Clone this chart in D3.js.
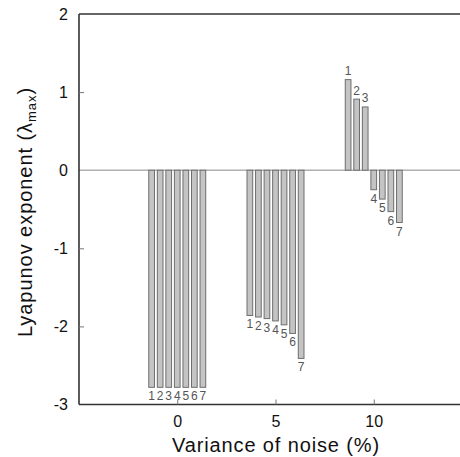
<!DOCTYPE html>
<html>
<head>
<meta charset="utf-8">
<script src="https://cdn.jsdelivr.net/npm/d3@7"></script>
<style>
  html, body { margin: 0; padding: 0; background: #fff; }
  svg { display: block; font-family: "Liberation Sans", Arial, sans-serif; }
</style>
</head>
<body>
<svg id="chart" width="460" height="457"></svg>
<script>
// ---- data ----
const groups = [0, 5, 10];                 // variance of noise (%)
const barIds = [1, 2, 3, 4, 5, 6, 7];      // bar labels within each group
const values0 = [-2.78, -2.78, -2.78, -2.78, -2.78, -2.78, -2.78];
const values5 = [-1.86, -1.88, -1.90, -1.93, -1.98, -2.09, -2.41];
const values10 = [1.16, 0.91, 0.81, -0.25, -0.37, -0.53, -0.67];
const xTicks = [0, 5, 10];
const yTicks = [-3, -2, -1, 0, 1, 2];

const series = [values0, values5, values10];

(function () {
const svg = d3.select("#chart");
const mLeft = 79, mTop = 14, mBottom = 404.5;
const x = d3.scaleLinear().domain([-5, 15]).range([mLeft, mLeft + 20 * 19.65]);
const y = d3.scaleLinear().domain([-3, 2]).range([mBottom, mTop]);

// zero line
svg.append("line")
  .attr("x1", mLeft).attr("x2", 460)
  .attr("y1", y(0)).attr("y2", y(0))
  .attr("stroke", "#b0b0b0").attr("stroke-width", 1.5);

// bars
groups.forEach((g, gi) => {
  const band = d3.scaleBand().domain(barIds)
    .range([x(g - 1.45), x(g + 1.45)]).paddingInner(0.333).paddingOuter(0);
  const vals = series[gi];
  const grp = svg.append("g");
  grp.selectAll("rect").data(barIds).join("rect")
    .attr("x", d => band(d))
    .attr("width", band.bandwidth())
    .attr("y", d => Math.min(y(0), y(vals[d - 1])))
    .attr("height", d => Math.abs(y(vals[d - 1]) - y(0)))
    .attr("fill", "#c4c4c4")
    .attr("stroke", "#6e6e6e")
    .attr("stroke-width", 1);
  grp.selectAll("text").data(barIds).join("text")
    .attr("x", d => band(d) + band.bandwidth() / 2)
    .attr("y", d => {
      const v = vals[d - 1];
      return v >= 0 ? y(v) - 4.5 : y(v) + 13;
    })
    .attr("text-anchor", "middle")
    .attr("font-size", 12)
    .attr("fill", "#555")
    .text(d => d);
});

// frame
const axisColor = "#333";
svg.append("line").attr("x1", mLeft).attr("x2", mLeft).attr("y1", mTop).attr("y2", mBottom)
  .attr("stroke", axisColor).attr("stroke-width", 1.6);
svg.append("line").attr("x1", mLeft).attr("x2", 460).attr("y1", mTop).attr("y2", mTop)
  .attr("stroke", axisColor).attr("stroke-width", 1.6);
svg.append("line").attr("x1", mLeft).attr("x2", 460).attr("y1", mBottom).attr("y2", mBottom)
  .attr("stroke", axisColor).attr("stroke-width", 1.6);

// y axis ticks
const yAxis = d3.axisLeft(y).tickValues(yTicks).tickSize(-5).tickPadding(11)
  .tickFormat(d => String(d));
const ya = svg.append("g").attr("transform", `translate(${mLeft},0)`).call(yAxis);
ya.select(".domain").remove();
ya.selectAll(".tick line").attr("stroke", "#777").attr("stroke-width", 1);
ya.selectAll(".tick").filter(d => d === 2 || d === -3 || d === 0).select("line").remove();
ya.selectAll("text").attr("font-size", 16).attr("fill", "#111")
  .attr("font-family", "Liberation Sans, Arial, sans-serif");

// x axis ticks
const xAxis = d3.axisBottom(x).tickValues(xTicks).tickSize(-5).tickPadding(11)
  .tickFormat(d => String(d));
const xa = svg.append("g").attr("transform", `translate(0,${mBottom})`).call(xAxis);
xa.select(".domain").remove();
xa.selectAll(".tick line").attr("stroke", "#777").attr("stroke-width", 1);
xa.selectAll("text").attr("font-size", 16).attr("fill", "#111")
  .attr("font-family", "Liberation Sans, Arial, sans-serif");

// helper: stretch a text to a target length via letter-spacing
function fitLength(sel, target) {
  const node = sel.node();
  const len = node.getComputedTextLength();
  const n = node.textContent.length;
  sel.attr("letter-spacing", ((target - len) / n).toFixed(2));
}

// axis titles
const xt = svg.append("text")
  .attr("x", 172).attr("y", 451.5)
  .attr("text-anchor", "start")
  .attr("font-size", 20).attr("fill", "#111")
  .text("Variance of noise (%)");
fitLength(xt, 208);

const yt = svg.append("text")
  .attr("transform", "translate(32,337) rotate(-90)")
  .attr("text-anchor", "start")
  .attr("font-size", 20).attr("fill", "#111");
yt.append("tspan").text("Lyapunov exponent (λ");
yt.append("tspan").attr("font-size", 13).attr("dy", 4).text("max");
yt.append("tspan").attr("dy", -4).text(")");
fitLength(yt, 250);
})();
</script>
</body>
</html>
